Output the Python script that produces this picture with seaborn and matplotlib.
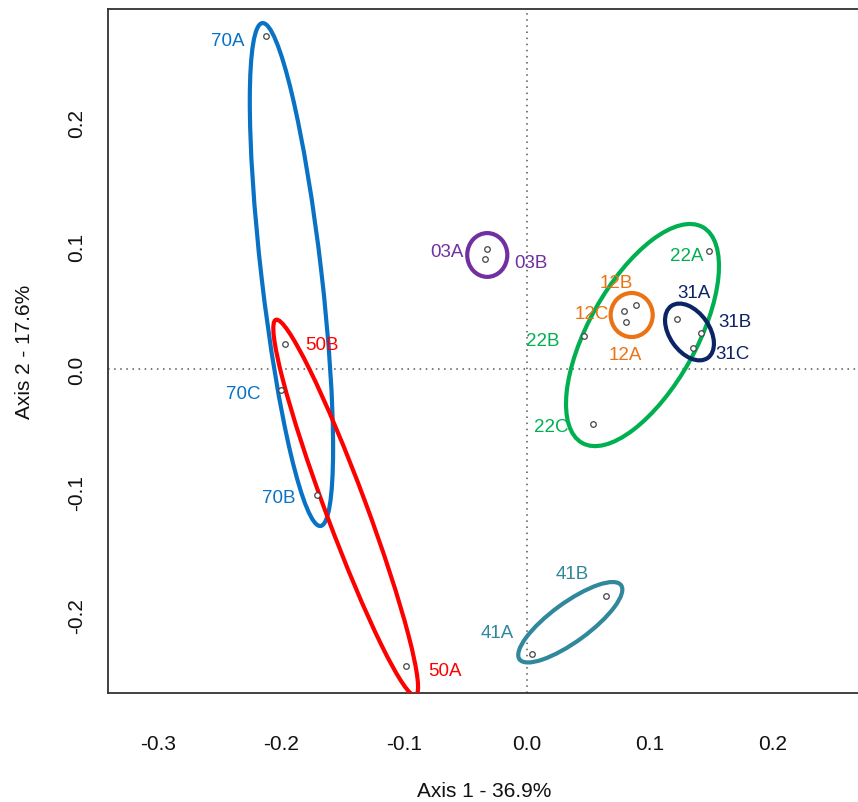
import matplotlib
matplotlib.use("Agg")
import matplotlib.pyplot as plt
from matplotlib.patches import Ellipse
import seaborn as sns
import pandas as pd

# ---------------- data ----------------
samples = ["70A", "70B", "70C", "50A", "50B", "03A", "03B",
           "12A", "12B", "12C", "22A", "22B", "22C",
           "31A", "31B", "31C", "41A", "41B"]
axis1 = [-0.2122, -0.1707, -0.2000, -0.0984, -0.1967, -0.0328, -0.0341,
         0.0801, 0.0890, 0.0787, 0.1480, 0.0466, 0.0539,
         0.1220, 0.1415, 0.1347, 0.0038, 0.0640]
axis2 = [0.2707, -0.1024, -0.0171, -0.2415, 0.0203, 0.0976, 0.0894,
         0.0382, 0.0520, 0.0474, 0.0959, 0.0268, -0.0447,
         0.0407, 0.0293, 0.0173, -0.2317, -0.1843]
groups = [s[:2] for s in samples]

# ellipses (centre, semi-axes, rotation in degrees) per group
ell_group = ["70", "50", "03", "12", "22", "31", "41"]
ell_cx = [-0.1915, -0.1474, -0.0323, 0.0851, 0.0939, 0.1321, 0.0352]
ell_cy = [0.0768, -0.1127, 0.0927, 0.0439, 0.0276, 0.0301, -0.2059]
ell_a = [0.2058, 0.1629, 0.0178, 0.0179, 0.1005, 0.0258, 0.0511]
ell_b = [0.0244, 0.0165, 0.0163, 0.0171, 0.0438, 0.0162, 0.0158]
ell_angle = [96.6, 110.4, 90.0, 90.0, 60.8, -55.0, 36.1]

x_ticks = [-0.3, -0.2, -0.1, 0.0, 0.1, 0.2]
y_ticks = [-0.2, -0.1, 0.0, 0.1, 0.2]
x_label = "Axis 1 - 36.9%"
y_label = "Axis 2 - 17.6%"

# ---------------- style ----------------
palette = {"70": "#0A72C4", "50": "#FF0000", "03": "#7030A0", "12": "#EB7315",
           "22": "#00B050", "31": "#0B2466", "41": "#31879C"}
label_offset_px = {
    "70A": (-38, -4), "70C": (-38, -3), "70B": (-38, -3),
    "50B": (37, 0), "50A": (39, -4),
    "03A": (-40, -3), "03B": (46, -3),
    "12B": (-20, 23), "12C": (-32, -3), "12A": (0, -32),
    "22A": (-22, -4), "22B": (-42, -4), "22C": (-42, -3),
    "31A": (17, 26), "31B": (34, 11), "31C": (40, -6),
    "41B": (-33, 22), "41A": (-34, 21),
}

sns.set_style("white")
plt.rcParams["font.family"] = ["Liberation Sans", "DejaVu Sans"]

W, H = 858, 803
fig = plt.figure(figsize=(W / 100, H / 100), dpi=100)
left_px, right_px, top_px, bottom_px = 108, 860, 10, 694
ax = fig.add_axes([left_px / W, 1 - bottom_px / H,
                   (right_px - left_px) / W, (bottom_px - top_px) / H])

x0_px, y0_px, scale = 527, 370, 1230.0
ax.set_xlim((left_px - x0_px) / scale, (right_px - x0_px) / scale)
ax.set_ylim((y0_px - bottom_px) / scale, (y0_px - top_px) / scale)

ax.axvline(0, color="#555555", lw=1.1, ls=(0, (1, 3)), zorder=1)
ax.axhline(0, color="#555555", lw=1.1, ls=(0, (1, 3)), zorder=1)

df = pd.DataFrame({"sample": samples, "Axis1": axis1, "Axis2": axis2, "group": groups})
sns.scatterplot(data=df, x="Axis1", y="Axis2", ax=ax, marker="o",
                facecolor="white", edgecolor="#444444", linewidth=0.9, s=16,
                legend=False, zorder=4)

for g, cx, cy, a, b, ang in zip(ell_group, ell_cx, ell_cy, ell_a, ell_b, ell_angle):
    e = Ellipse((cx, cy), 2 * a, 2 * b, angle=ang, fill=False,
                edgecolor=palette[g], lw=3.0, zorder=3)
    ax.add_patch(e)

for s, xv, yv, g in zip(samples, axis1, axis2, groups):
    ax.annotate(s, (xv, yv), xytext=label_offset_px[s], textcoords="offset pixels",
                ha="center", va="center", fontsize=13.5, color=palette[g], zorder=5)

ax.set_xticks(x_ticks)
ax.set_xticklabels([f"{v:.1f}" for v in x_ticks])
ax.set_yticks(y_ticks)
ax.set_yticklabels([f"{v:.1f}" for v in y_ticks], rotation=90, va="center")
ax.tick_params(axis="both", direction="out", length=9.5, width=1.0,
               color="#555555", labelsize=15, labelcolor="#111111")
ax.tick_params(axis="x", pad=20)
ax.tick_params(axis="y", pad=6)

for sp in ax.spines.values():
    sp.set_color("#333333")
    sp.set_linewidth(1.3)

ax.set_xlabel(x_label, fontsize=15, color="#111111", labelpad=20)
ax.set_ylabel(y_label, fontsize=15, color="#111111", labelpad=24)

fig.savefig("out.png", dpi=100)
